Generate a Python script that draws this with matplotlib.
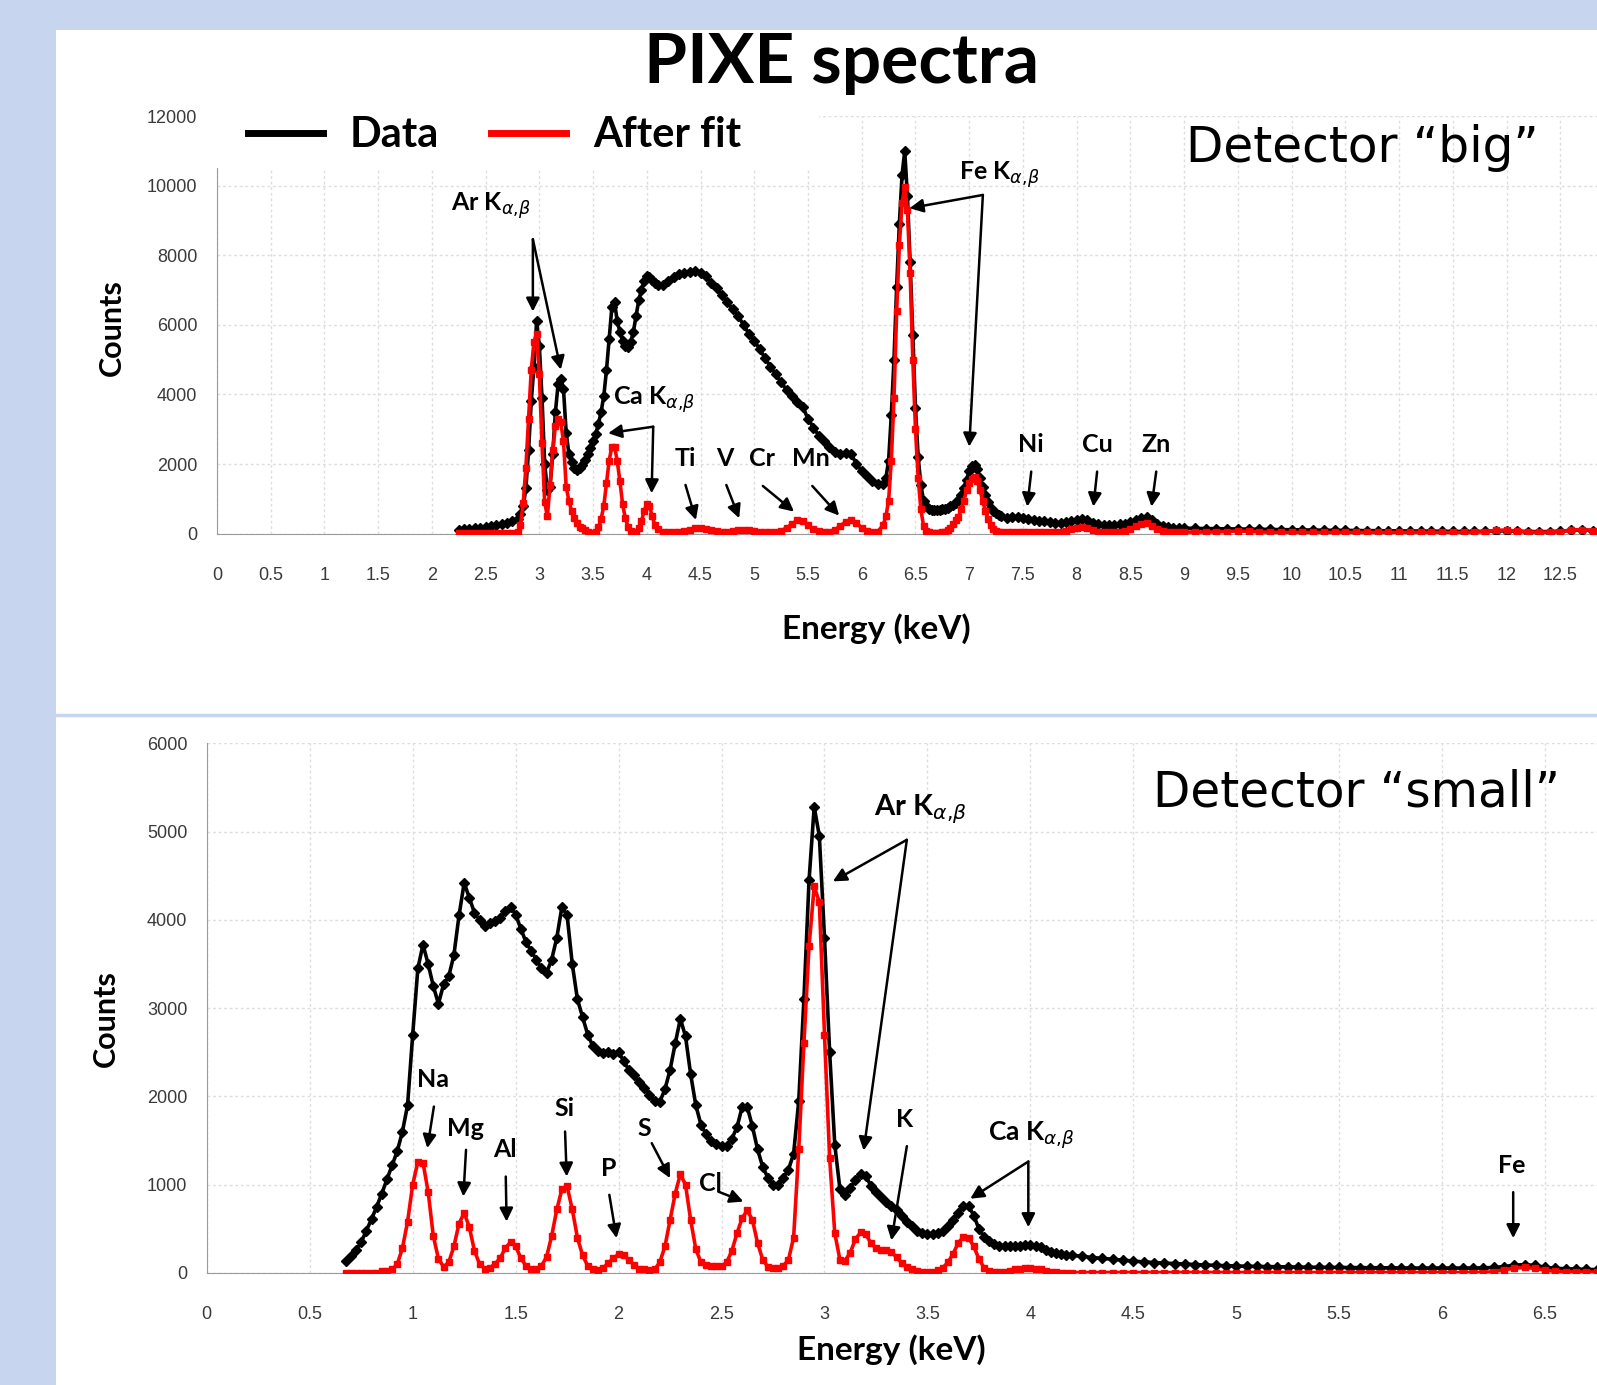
import numpy as np
import matplotlib
matplotlib.use("Agg")
import matplotlib.pyplot as plt
from matplotlib.lines import Line2D
from matplotlib.patches import Rectangle
from matplotlib.font_manager import FontProperties

plt.rcParams["mathtext.fontset"] = "dejavusans"

# ------------------------------------------------------------------
# Detector "big"  (energy segments: start keV, channel step keV)
# ------------------------------------------------------------------
big_seg_start = [2.25, 2.825, 4.15, 6.225, 7.35, 9.1]
big_seg_step = [0.05, 0.025, 0.05, 0.025, 0.05, 0.1]

big_data_1 = [110, 120, 130, 150, 170, 190, 220, 250, 280, 320, 370, 430]
big_data_2 = [560, 780, 1300, 2400, 3800, 4800, 6100, 5400,
              3900, 2000, 1250, 1350, 2300, 3500, 4300, 4450,
              4150, 2900, 2300, 2050, 1900, 1840, 1880, 1980,
              2120, 2280, 2450, 2650, 2870, 3150, 3500, 3950,
              4700, 5600, 6500, 6650, 6100, 5800, 5550, 5400,
              5350, 5500, 5800, 6250, 6700, 7000, 7250, 7400,
              7380, 7300, 7200, 7150]
big_data_3 = [7150, 7250, 7380, 7450, 7480, 7530, 7540, 7500, 7400, 7200,
              7050, 6850, 6650, 6450, 6250, 6000, 5750, 5550, 5300, 5050,
              4800, 4580, 4350, 4130, 3950, 3780, 3650, 3300, 3050, 2820,
              2650, 2500, 2350, 2300, 2330, 2300, 2000, 1800, 1650, 1500,
              1430, 1420]
big_data_4 = [1600, 2100, 3400, 5000, 7100, 8900, 10300, 11000,
              9700, 7800, 5700, 3600, 2200, 1400, 950, 800,
              720, 690, 680, 680, 690, 700, 720, 750,
              780, 820, 880, 960, 1100, 1300, 1550, 1800,
              1950, 1980, 1850, 1600, 1350, 1100, 900, 750,
              650, 580, 530, 500]
big_data_5 = [460, 470, 470, 450, 420, 390, 370, 350, 330, 320,
              320, 340, 370, 400, 410, 380, 320, 270, 250, 250,
              260, 270, 290, 330, 400, 460, 470, 400, 290, 210,
              190, 175, 165, 160]
big_data_6 = [150, 145, 140, 138, 135, 130, 125, 120, 115, 110,
              106, 102, 98, 95, 92, 88, 84, 80, 77, 74,
              72, 70, 68, 66, 64, 62, 62, 65, 80, 90,
              70, 60, 58, 60, 70, 95, 110, 90, 70]

big_fit_1 = [20, 20, 20, 20, 20, 20, 20, 20, 20, 20, 25, 40]
big_fit_2 = [250, 870, 1900, 3300, 4700, 5500, 5750, 4600,
             2600, 900, 500, 1400, 2400, 3100, 3300, 3200,
             2650, 1350, 950, 650, 450, 300, 200, 150,
             100, 50, 30, 30, 60, 180, 420, 800,
             1450, 2100, 2500, 2500, 2100, 1500, 850, 450,
             200, 80, 40, 60, 150, 350, 650, 850,
             800, 500, 250, 120]
big_fit_3 = [60, 40, 40, 50, 70, 110, 150, 160, 140, 100,
             70, 60, 60, 80, 100, 110, 100, 80, 60, 50,
             50, 60, 90, 160, 280, 380, 360, 250, 130, 70,
             50, 60, 110, 220, 340, 380, 300, 170, 80, 50,
             60, 250]
big_fit_4 = [500, 950, 2100, 3900, 6400, 8300, 9500, 9950,
             9300, 7500, 5000, 3000, 1600, 700, 220, 80,
             40, 30, 30, 30, 30, 40, 60, 100,
             170, 280, 380, 480, 700, 950, 1250, 1450,
             1580, 1620, 1500, 1250, 950, 650, 420, 250,
             140, 80, 50, 40]
big_fit_5 = [40, 50, 60, 60, 55, 50, 45, 45, 45, 50,
             60, 80, 120, 170, 190, 160, 100, 60, 50, 50,
             50, 55, 70, 120, 210, 290, 300, 220, 120, 70,
             50, 45, 45, 45]
big_fit_6 = [45, 45, 50, 60, 75, 65, 50, 40, 35, 35,
             35, 35, 35, 35, 35, 35, 35, 35, 35, 35,
             35, 35, 35, 35, 35, 35, 40, 60, 95, 100,
             70, 45, 40, 45, 60, 100, 115, 90, 60]

big_xticks = [0, 0.5, 1, 1.5, 2, 2.5, 3, 3.5, 4, 4.5, 5, 5.5, 6, 6.5,
              7, 7.5, 8, 8.5, 9, 9.5, 10, 10.5, 11, 11.5, 12, 12.5]
big_xtick_labels = ["0", "0.5", "1", "1.5", "2", "2.5", "3", "3.5", "4",
                    "4.5", "5", "5.5", "6", "6.5", "7", "7.5", "8", "8.5",
                    "9", "9.5", "10", "10.5", "11", "11.5", "12", "12.5"]
big_yticks = [0, 2000, 4000, 6000, 8000, 10000, 12000]

KAB = r"K$_{\alpha{,}\beta}$"
big_label_text = ["Ar " + KAB, "Ca " + KAB, "Fe " + KAB, "Ti", "V", "Cr", "Mn",
                  "Ni", "Cu", "Zn"]
big_label_xy = [(2.55, 9425), (4.07, 3864), (7.28, 10303), (4.36, 2166),
                (4.73, 2166), (5.07, 2166), (5.525, 2166), (7.57, 2549),
                (8.19, 2549), (8.74, 2549)]
big_arrows = [((2.94, 8459), (2.94, 6381)), ((2.94, 8459), (3.20, 4712)),
              ((4.06, 3073), (3.64, 2886)), ((4.06, 3073), (4.045, 1160)),
              ((7.127, 9733), (6.445, 9352)), ((7.127, 9733), (7.0, 2500)),
              ((4.36, 1399), (4.457, 392)), ((4.74, 1399), (4.86, 442)),
              ((5.08, 1370), (5.37, 632)), ((5.54, 1370), (5.79, 518)),
              ((7.577, 1783), (7.54, 776)), ((8.19, 1783), (8.155, 776)),
              ((8.74, 1783), (8.696, 776))]

# ------------------------------------------------------------------
# Detector "small"
# ------------------------------------------------------------------
small_seg_start = [0.675, 2.125, 3.525, 4.25]
small_seg_step = [0.025, 0.025, 0.025, 0.05]

small_data_1 = [140, 190, 255, 350, 480, 610, 750, 900,
                1060, 1220, 1380, 1600, 1900, 2700, 3450, 3720,
                3500, 3250, 3050, 3270, 3360, 3600, 4050, 4420,
                4250, 4080, 4000, 3930, 3960, 3990, 4020, 4100,
                4150, 4060, 3900, 3750, 3650, 3550, 3450, 3400,
                3550, 3800, 4150, 4050, 3500, 3100, 2900, 2700,
                2570, 2520, 2490, 2500, 2480, 2500, 2400, 2300,
                2240, 2160]
small_data_2 = [2100, 2020, 1950, 1940, 2080, 2300, 2600, 2880,
                2680, 2250, 1900, 1680, 1570, 1490, 1460, 1440,
                1440, 1520, 1650, 1880, 1880, 1660, 1400, 1200,
                1080, 1000, 1000, 1080, 1170, 1350, 1950, 3100,
                4450, 5280, 4950, 3800, 2500, 1450, 950, 880,
                960, 1050, 1120, 1100, 990, 920, 860, 800,
                760, 710, 640, 580, 530, 480, 450, 440]
small_data_3 = [440, 450, 480, 530, 600, 680, 760, 760,
                650, 500, 410, 360, 330, 310, 300, 300,
                305, 310, 320, 320, 310, 290, 260, 240,
                225, 215, 205, 200]
small_data_4 = [190, 175, 165, 155, 145, 135, 125, 118, 112, 106,
                100, 95, 90, 86, 82, 79, 76, 74, 72, 70,
                68, 66, 65, 64, 63, 62, 61, 60, 60, 59,
                58, 57, 56, 56, 55, 55, 55, 55, 56, 58,
                62, 72, 88, 95, 85, 65, 52, 48, 44, 40,
                38, 36, 35]

small_fit_1 = [5, 5, 5, 5, 5, 5, 5, 20,
               25, 40, 100, 280, 580, 1000, 1260, 1250,
               920, 420, 160, 70, 120, 300, 560, 680,
               520, 250, 100, 50, 60, 100, 170, 280,
               350, 300, 170, 80, 40, 40, 80, 180,
               420, 720, 950, 980, 720, 400, 200, 80,
               40, 35, 60, 110, 170, 210, 200, 150,
               90, 50]
small_fit_2 = [40, 35, 40, 120, 300, 600, 900, 1120,
               1000, 600, 270, 120, 90, 80, 75, 75,
               120, 250, 450, 620, 710, 600, 340, 150,
               70, 55, 60, 80, 150, 400, 1400, 2600,
               3700, 4380, 4200, 2700, 1300, 450, 150, 140,
               230, 380, 460, 440, 340, 280, 265, 255,
               235, 180, 110, 70, 40, 20, 10, 10]
small_fit_3 = [15, 30, 60, 120, 220, 340, 410, 400,
               300, 160, 60, 25, 10, 10, 15, 25,
               40, 50, 55, 55, 50, 40, 25, 15,
               10, 5, 5, 5]
small_fit_4 = [5, 5, 5, 5, 5, 5, 5, 5, 5, 5,
               5, 5, 5, 5, 5, 5, 5, 5, 5, 5,
               5, 5, 5, 5, 5, 5, 5, 5, 5, 5,
               5, 5, 5, 5, 5, 5, 5, 5, 5, 5,
               15, 35, 55, 62, 52, 32, 18, 14, 12, 10,
               10, 10, 10]

small_xticks = [0, 0.5, 1, 1.5, 2, 2.5, 3, 3.5, 4, 4.5, 5, 5.5, 6, 6.5]
small_xtick_labels = ["0", "0.5", "1", "1.5", "2", "2.5", "3", "3.5", "4",
                      "4.5", "5", "5.5", "6", "6.5"]
small_yticks = [0, 1000, 2000, 3000, 4000, 5000, 6000]

small_label_text = ["Na", "Mg", "Al", "Si", "P", "S", "Cl",
                    "Ar " + KAB, "K", "Ca " + KAB, "Fe"]
small_label_xy = [(1.10, 2190), (1.254, 1640), (1.448, 1395), (1.736, 1867),
                  (1.95, 1187), (2.123, 1640), (2.444, 1017), (3.466, 5254),
                  (3.387, 1733), (4.004, 1560), (6.337, 1212)]
small_label_size = [18, 18, 18, 18, 18, 18, 18, 21, 18, 19, 18]
small_arrows = [((1.103, 1885), (1.071, 1414)), ((1.259, 1395), (1.246, 866)),
                ((1.452, 1092), (1.456, 582)), ((1.74, 1602), (1.748, 1092)),
                ((1.955, 885), (1.99, 394)), ((2.161, 1470), (2.25, 1074)),
                ((2.484, 922), (2.606, 809)), ((3.40, 4907), (3.041, 4436)),
                ((3.40, 4907), (3.19, 1386)), ((3.40, 1436), (3.325, 369)),
                ((3.99, 1262), (3.708, 841)), ((3.99, 1262), (3.99, 518)),
                ((6.345, 915), (6.345, 394))]


def build(starts, steps, segs):
    e, c = [], []
    for s0, st, vals in zip(starts, steps, segs):
        e.append(s0 + st * np.arange(len(vals)))
        c.append(np.asarray(vals, dtype=float))
    return np.concatenate(e), np.concatenate(c)


big_E_d, big_C_d = build(big_seg_start, big_seg_step,
                         [big_data_1, big_data_2, big_data_3, big_data_4, big_data_5, big_data_6])
big_E_f, big_C_f = build(big_seg_start, big_seg_step,
                         [big_fit_1, big_fit_2, big_fit_3, big_fit_4, big_fit_5, big_fit_6])
sm_E_d, sm_C_d = build(small_seg_start, small_seg_step,
                       [small_data_1, small_data_2, small_data_3, small_data_4])
sm_E_f, sm_C_f = build(small_seg_start, small_seg_step,
                       [small_fit_1, small_fit_2, small_fit_3, small_fit_4])

# ------------------------------------------------------------------
BLUE = "#c7d5ee"
bold_font = "Lato"
tick_font = FontProperties(family="Liberation Sans", size=13)

fig = plt.figure(figsize=(15.97, 13.85), dpi=100, facecolor=BLUE)
fig.patches.append(Rectangle((0.0351, 0), 0.9649, 0.978, transform=fig.transFigure,
                             facecolor="white", edgecolor="none", zorder=-10))
fig.add_artist(Line2D([0.0351, 1], [0.4838, 0.4838], transform=fig.transFigure,
                      color=BLUE, lw=2.5))

fig.text(0.5268, 0.9544, "PIXE spectra", family=bold_font, weight="bold",
         fontsize=50, ha="center", va="center")


def style_axes(ax, xlim, ylim, xticks, xlabels, yticks, spine_top):
    ax.set_facecolor("none")
    ax.set_xlim(*xlim)
    ax.set_ylim(*ylim)
    ax.set_xticks(xticks)
    ax.set_xticklabels(xlabels)
    ax.set_yticks(yticks)
    for lab in ax.get_xticklabels() + ax.get_yticklabels():
        lab.set_fontproperties(tick_font)
        lab.set_color("#3a3a3a")
    ax.tick_params(axis="x", length=0, pad=24)
    ax.tick_params(axis="y", length=0, pad=14)
    ax.spines["top"].set_visible(False)
    ax.spines["right"].set_visible(False)
    ax.spines["left"].set_color("#9a9a9a")
    ax.spines["bottom"].set_color("#9a9a9a")
    ax.spines["left"].set_bounds(0, spine_top)
    ax.set_axisbelow(True)
    ax.grid(True, color="#dedede", lw=1.0, ls=(0, (2, 2)))


def draw_series(ax, e_d, c_d, e_f, c_f):
    ax.plot(e_d, c_d, color="black", lw=2.6, marker="D", ms=5.6,
            mfc="black", mec="black", zorder=3)
    ax.plot(e_f, c_f, color="#ff0000", lw=2.6, marker="s", ms=4.6,
            mfc="#ff0000", mec="#ff0000", zorder=4)


def annotate(ax, texts, xys, arrows, sizes):
    for t, (x, y), s in zip(texts, xys, sizes):
        ax.text(x, y, t, family=bold_font, weight="bold", fontsize=s,
                ha="center", va="center", zorder=6)
    for (x0, y0), (x1, y1) in arrows:
        ax.annotate("", xy=(x1, y1), xytext=(x0, y0),
                    arrowprops=dict(arrowstyle="-|>", color="black", lw=1.8,
                                    mutation_scale=20, shrinkA=0, shrinkB=0),
                    zorder=6)


# ---------------- top panel ----------------
ax1 = fig.add_axes([0.1358, 0.6147, 0.8642, 0.3015])
style_axes(ax1, (0, 12.841), (0, 12000), big_xticks, big_xtick_labels,
           big_yticks, 10500)
ax1.add_patch(Rectangle((0, 10450), 5.6, 1700, facecolor="white",
                        edgecolor="none", zorder=1, clip_on=False))
draw_series(ax1, big_E_d, big_C_d, big_E_f, big_C_f)
annotate(ax1, big_label_text, big_label_xy, big_arrows, [18] * len(big_label_text))

leg = ax1.legend(handles=[Line2D([], [], color="black", lw=5),
                          Line2D([], [], color="#ff0000", lw=5)],
                 labels=["Data", "After fit"], loc="center left",
                 bbox_to_anchor=(0.155, 0.9022), bbox_transform=fig.transFigure,
                 ncol=2, frameon=False,
                 prop=FontProperties(family=bold_font, weight="bold", size=30),
                 handlelength=1.8, handletextpad=0.65, columnspacing=1.25,
                 borderpad=0, borderaxespad=0)

fig.text(0.0702, 0.7632, "Counts", family=bold_font, weight="bold", fontsize=22,
         rotation=90, ha="center", va="center")
fig.text(0.5485, 0.5463, "Energy (keV)", family=bold_font, weight="bold",
         fontsize=24, ha="center", va="center")
fig.text(0.8533, 0.8934, "Detector \u201cbig\u201d", family="DejaVu Sans",
         fontsize=35, ha="center", va="center")

# ---------------- bottom panel ----------------
ax2 = fig.add_axes([0.1295, 0.0809, 0.8705, 0.3824])
style_axes(ax2, (0, 6.752), (0, 6000), small_xticks, small_xtick_labels,
           small_yticks, 6000)
draw_series(ax2, sm_E_d, sm_C_d, sm_E_f, sm_C_f)
annotate(ax2, small_label_text, small_label_xy, small_arrows, small_label_size)

fig.text(0.0663, 0.2647, "Counts", family=bold_font, weight="bold", fontsize=22,
         rotation=90, ha="center", va="center")
fig.text(0.558, 0.0257, "Energy (keV)", family=bold_font, weight="bold",
         fontsize=24, ha="center", va="center")
fig.text(0.8495, 0.428, "Detector \u201csmall\u201d", family="DejaVu Sans",
         fontsize=35, ha="center", va="center")

fig.savefig("out.png", dpi=100, facecolor=fig.get_facecolor())
